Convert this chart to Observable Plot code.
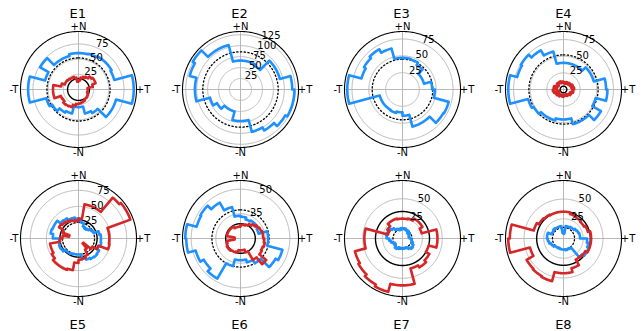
<!DOCTYPE html>
<html>
<head>
<meta charset="utf-8">
<script src="https://cdn.jsdelivr.net/npm/d3@7"></script>
<script src="https://cdn.jsdelivr.net/npm/@observablehq/plot@0.6"></script>
<style>
  body { margin: 0; background: #fff; }
  #fig { position: relative; width: 642px; height: 331px; overflow: hidden; font-family: "DejaVu Sans", sans-serif; }
  .panel { position: absolute; }
  .panel svg { max-width: none !important; display: block; }
  .title { position: absolute; width: 80px; text-align: center; font-size: 13px; line-height: 13px; color: #000; }
</style>
</head>
<body>
<div id="fig"></div>
<script>
// Panel names, left to right, top row then bottom row
const panelNames = ["E1", "E2", "E3", "E4", "E5", "E6", "E7", "E8"];

// Direction labels around each polar panel (angle clockwise from top)
const directionLabels = ["+N", "+T", "-N", "-T"];
const directionAngles = [0, 90, 180, 270];

// Radial tick step
const radialStep = 25;

// Blue histograms (equal angular bins, clockwise from +N)
const blueE1 = [60,61,63,63,61,91,91,64,64,45,41,29,29,41,44,50,55,83,83,57,73,57,57,60];
const blueE2 = [66,66,63,93,93,118,123,123,118,108,100,72,72,52,52,62,72,104,104,120,126,105,105,66];
const blueE3 = [47,46,42,33,33,44,48,71,70,57,57,39,34,36,35,35,35,82,82,63,66,69,63,47];
const blueE4 = [40,40,40,47,47,64,66,50,65,54,54,45,45,48,48,52,55,83,83,72,74,68,59,40];
const blueE5 = [27,25,20,18,20,23,25,33,35,35,36,33,37,38,37,35,32,25,25,25,26,27,27,31,32,31,30,40,44,43,43,37,36,33,33,31];
const blueE6 = [22,20,21,20,19,28,28,44,41,29,25,22,22,29,47,43,47,55,56,46,47,42,33,23];
const blueE7 = [12,13,11,12,9,11,9,8,9,11,12,14,16,17,15,13,12,13,13,12,14,15,13,11,13,15,17,20,21,20,19,17,14,13,11,13];
const blueE8 = [6,16,16,17,17,19,20,21,21,30,32,34,34,31,15,14,15,14,14,14,13,14,14,16,17,19,20,21,21,16,16,17,16,16,16,7];

// Red histograms (none for E2 and E3)
const redE1 = [15,20,22,24,28,30,30,24,15,15,15,17,18,19,19,21,22,23,24,27,31,32,33,30,31,42,42,42,29,24,24,23,22,22,20,13];
const redE2 = [];
const redE3 = [];
const redE4 = [11,9,12,10,13,11,15,12,16,13,15,11,13,10,11,8,10,9,11,8,10,12,9,13,7,15,16,10,15,12,9,13,11,13,10,12];
const redE5 = [31,54,54,54,83,86,86,48,48,48,49,33,25,10,20,29,32,33,38,50,52,52,52,48,45,45,29,25,15,27,35,33,32,30,29,27];
const redE6 = [14,14,15,17,19,21,22,23,23,24,25,24,25,34,25,15,12,12,12,14,15,15,16,16,15,14,6,6,14,14,14,14,14,12,12,12];
const redE7 = [25,26,29,29,25,44,44,34,39,42,39,59,59,69.5,67,64,62,48,48,19,22,26,26,25];
const redE8 = [34,32,31,30,32,35,35,35,32,31,39,44,44,56,55,54,44,70,68,39,36,35,34,34];

// Reference levels: solid black ring and dotted ring per panel
const solidLevel = [18, null, null, 5, 29, 15, 34, 34];
const dottedLevel = [52, 86, 45, 52, 25, 29, 12, 14];

const blueSeries = [blueE1, blueE2, blueE3, blueE4, blueE5, blueE6, blueE7, blueE8];
const redSeries = [redE1, redE2, redE3, redE4, redE5, redE6, redE7, redE8];

// ---- layout ----
const R = 58;            // radius of the polar frame in px
const M = 26;            // margin around the frame
const SIZE = 2 * R + 2 * M;
const colX = [77.7, 239.6, 401.5, 563.4];
const rowY = [89, 237.7];
const BLUE = "#1e90ff";
const RED = "#d62728";

const rad = a => a * Math.PI / 180;
const px = d => d.r * Math.sin(rad(d.a));
const py = d => d.r * Math.cos(rad(d.a));

// Outline of a polar step histogram: arcs at each bin value joined by radial steps
function stairs(values) {
  const n = values.length, w = 360 / n, pts = [];
  values.forEach((v, k) => {
    const steps = Math.max(2, Math.ceil(w));
    for (let i = 0; i <= steps; i++) pts.push({a: k * w + w * i / steps, r: v});
  });
  pts.push(pts[0]);
  return pts;
}
function ring(r) {
  return d3.range(0, 361, 1).map(a => ({a, r}));
}

const fig = document.getElementById("fig");

panelNames.forEach((name, i) => {
  const blue = blueSeries[i], red = redSeries[i];
  const rmax = d3.max(blue.concat(red)) * 1.05;
  const ticks = d3.range(radialStep, rmax, radialStep);
  const marks = [];

  // radial grid circles and the four direction spokes
  ticks.forEach(t => marks.push(Plot.line(ring(t), {x: px, y: py, stroke: "#b0b0b0", strokeWidth: 0.9})));
  marks.push(Plot.link(directionAngles, {
    x1: 0, y1: 0,
    x2: a => rmax * Math.sin(rad(a)), y2: a => rmax * Math.cos(rad(a)),
    stroke: "#b0b0b0", strokeWidth: 0.9
  }));

  // frame
  marks.push(Plot.line(ring(rmax), {x: px, y: py, stroke: "#000", strokeWidth: 1.1}));

  // reference rings
  if (solidLevel[i] != null) marks.push(Plot.line(ring(solidLevel[i]), {x: px, y: py, stroke: "#000", strokeWidth: 1.4}));
  if (dottedLevel[i] != null) marks.push(Plot.line(ring(dottedLevel[i]), {x: px, y: py, stroke: "#000", strokeWidth: 1.3, strokeDasharray: "1.3,2.4"}));

  // histograms
  marks.push(Plot.line(stairs(blue), {x: px, y: py, stroke: BLUE, strokeWidth: 2.6, strokeLinejoin: "round"}));
  if (red.length) marks.push(Plot.line(stairs(red), {x: px, y: py, stroke: RED, strokeWidth: 2.6, strokeLinejoin: "round"}));

  // radial tick labels: bottom-left corner at the 22.5° crossing
  marks.push(Plot.text(ticks, {
    x: t => t * Math.sin(rad(22.5)), y: t => t * Math.cos(rad(22.5)),
    text: t => String(t), fontSize: 10, fill: "#000",
    textAnchor: "start", lineAnchor: "bottom"
  }));

  // direction labels just outside the frame
  const pad = a => (a % 180 === 0 ? 5 : 6.5);
  marks.push(Plot.text(directionLabels.map((t, j) => ({t, a: directionAngles[j]})), {
    x: d => rmax * (1 + pad(d.a) / R) * Math.sin(rad(d.a)),
    y: d => rmax * (1 + pad(d.a) / R) * Math.cos(rad(d.a)),
    text: "t", fontSize: 10, fill: "#000"
  }));

  const svg = Plot.plot({
    width: SIZE, height: SIZE, margin: M,
    x: {domain: [-rmax, rmax], axis: null},
    y: {domain: [-rmax, rmax], axis: null},
    style: {background: "transparent", overflow: "visible", fontFamily: "DejaVu Sans, sans-serif"},
    marks
  });
  const col = i % 4, row = Math.floor(i / 4);
  const holder = document.createElement("div");
  holder.className = "panel";
  holder.style.left = (colX[col] - SIZE / 2) + "px";
  holder.style.top = (rowY[row] - SIZE / 2) + "px";
  holder.style.width = SIZE + "px";
  holder.style.height = SIZE + "px";
  holder.appendChild(svg);
  fig.appendChild(holder);

  const title = document.createElement("div");
  title.className = "title";
  title.textContent = name;
  title.style.left = (colX[col] - 40) + "px";
  title.style.top = (row === 0 ? 13.5 - 6.5 : 324.5 - 6.5) + "px";
  fig.appendChild(title);
});
</script>
</body>
</html>
